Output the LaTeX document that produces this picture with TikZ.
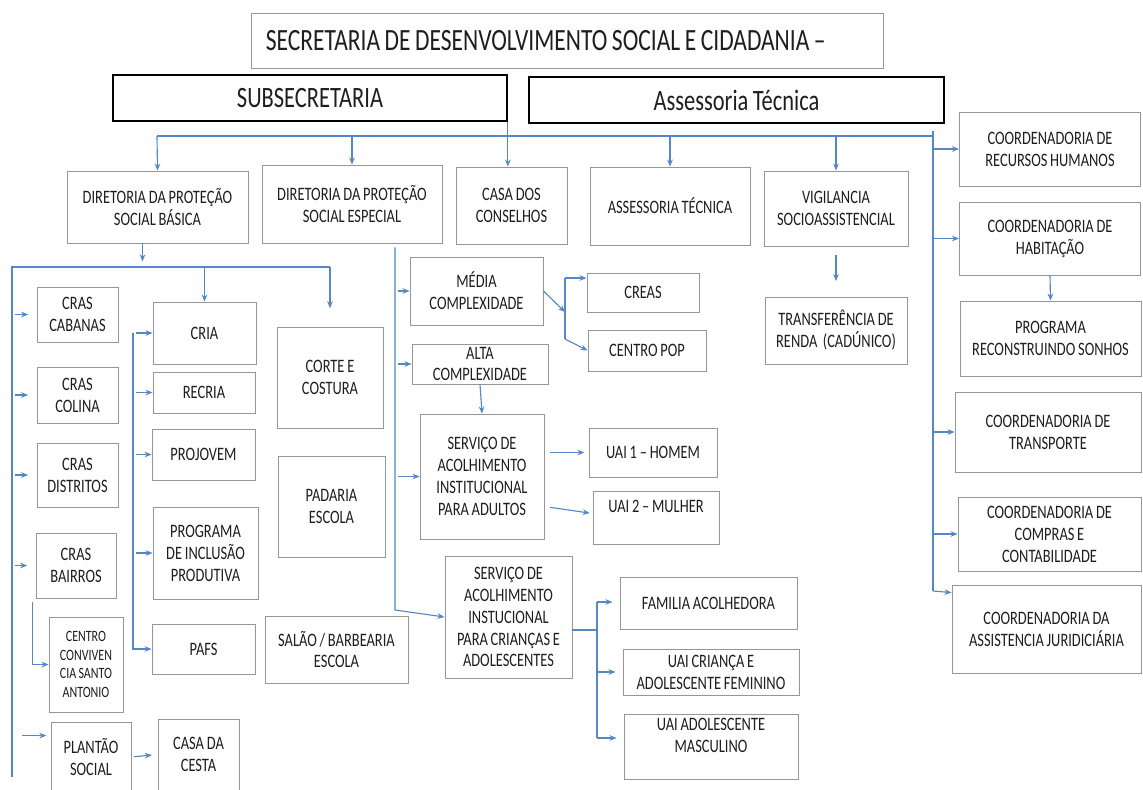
\documentclass[tikz,border=0pt]{standalone}
\usepackage{fontspec}
\setmainfont{Carlito}[FakeStretch=0.76, WordSpace=0.85]
\usetikzlibrary{calc,arrows.meta}
\definecolor{myblue}{RGB}{84,135,195}
\definecolor{mygray}{RGB}{150,150,150}
\definecolor{mytext}{RGB}{30,30,30}
\tikzset{
  box/.style={draw=mygray, line width=0.6pt, rectangle, align=center, inner sep=1pt,
    text=mytext, font=\fontsize{13.5}{15.6}\selectfont},
  headbox/.style={draw=black, line width=1.2pt, rectangle, align=center,
    text=mytext, font=\fontsize{21}{24}\selectfont},
  link/.style={myblue, line width=0.8pt},
  arr/.style={link, -{Stealth[length=5pt,width=4pt]}},
}

\begin{document}
\begin{tikzpicture}[x=0.025cm, y=-0.025cm]
  \clip (0,0) rectangle (1143,789);
  \fill[white] (0,0) rectangle (1143,789);

  % top level
  \node[box, font=\fontsize{22}{25}\selectfont, text width=150.5mm, align=flush left, inner xsep=3.75mm, minimum height=13.75mm] (sec) at (567,40.5) {SECRETARIA DE DESENVOLVIMENTO SOCIAL E CIDADANIA –};
  \node[headbox, minimum width=98.5mm, minimum height=11.5mm] (subsec) at (310,98) {SUBSECRETARIA};
  \node[headbox, minimum width=103.75mm, minimum height=11.5mm] (assess) at (736.5,100) {Assessoria Técnica};

  % second row
  \node[box, minimum width=45.25mm, minimum height=18mm] (dirbas) at (157.5,207) {DIRETORIA DA PROTEÇÃO\\SOCIAL BÁSICA};
  \node[box, minimum width=45mm, minimum height=19.5mm] (diresp) at (352,204) {DIRETORIA DA PROTEÇÃO\\SOCIAL ESPECIAL};
  \node[box, minimum width=27.75mm, minimum height=19.25mm] (casa) at (511.5,205.5) {CASA DOS\\CONSELHOS};
  \node[box, minimum width=40mm, minimum height=19.5mm] (asstec) at (670,206) {ASSESSORIA TÉCNICA};
  \node[box, minimum width=36mm, minimum height=18.75mm] (vigil) at (836,208.5) {VIGILANCIA\\SOCIOASSISTENCIAL};
  \node[box, minimum width=35.5mm, minimum height=16.75mm] (transf) at (836,330.5) {TRANSFERÊNCIA DE\\RENDA~~(CADÚNICO)};

  % coordenadorias
  \node[box, minimum width=45.25mm, minimum height=18.5mm] (coordrh) at (1050,149) {COORDENADORIA DE\\RECURSOS HUMANOS};
  \node[box, minimum width=45.25mm, minimum height=18.25mm] (coordhab) at (1050,238.5) {COORDENADORIA DE\\HABITAÇÃO};
  \node[box, minimum width=45.25mm, minimum height=18.75mm] (progsonhos) at (1050.5,338.5) {PROGRAMA\\RECONSTRUINDO SONHOS};
  \node[box, minimum width=46.5mm, minimum height=20mm] (coordtransp) at (1048,432) {COORDENADORIA DE\\TRANSPORTE};
  \node[box, minimum width=45.75mm, minimum height=18.5mm] (coordcompras) at (1049.5,534) {COORDENADORIA DE\\COMPRAS E\\CONTABILIDADE};
  \node[box, minimum width=47.25mm, minimum height=22mm] (coordjur) at (1046.5,629) {COORDENADORIA DA\\ASSISTENCIA JURIDICIÁRIA};

  % protecao social basica
  \node[box, minimum width=20.25mm, minimum height=13.75mm] (crascab) at (77.5,314.5) {CRAS\\CABANAS};
  \node[box, minimum width=20.25mm, minimum height=14mm] (crascol) at (77.5,395) {CRAS\\COLINA};
  \node[box, minimum width=20.25mm, minimum height=16mm] (crasdist) at (77.5,475) {CRAS\\DISTRITOS};
  \node[box, minimum width=20mm, minimum height=16.25mm] (crasbai) at (76,565.5) {CRAS\\BAIRROS};
  \node[box, font=\fontsize{11.2}{13.3}\selectfont, minimum width=18.5mm, minimum height=23.75mm] (centroconv) at (86,664.5) {CENTRO\\CONVIVEN\\CIA SANTO\\ANTONIO};
  \node[box, minimum width=20mm, minimum height=17.5mm] (plantao) at (91,757) {PLANTÃO\\SOCIAL};
  \node[box, minimum width=20.25mm, minimum height=17.75mm] (casacesta) at (198.5,754.5) {CASA DA\\CESTA};
  \node[box, minimum width=25.75mm, minimum height=15.5mm] (cria) at (204.5,333) {CRIA};
  \node[box, minimum width=25.5mm, minimum height=10.25mm] (recria) at (204,392.5) {RECRIA};
  \node[box, minimum width=25.75mm, minimum height=12.75mm] (projovem) at (203.5,454.5) {PROJOVEM};
  \node[box, minimum width=26.25mm, minimum height=23mm] (proginc) at (205.5,553) {PROGRAMA\\DE INCLUSÃO\\PRODUTIVA};
  \node[box, minimum width=25.75mm, minimum height=12.5mm] (pafs) at (203.5,649) {PAFS};
  \node[box, minimum width=26.5mm, minimum height=25.25mm] (corte) at (330,377.5) {CORTE E\\COSTURA};
  \node[box, minimum width=26.75mm, minimum height=25.25mm] (padaria) at (331.5,506.5) {PADARIA\\ESCOLA};
  \node[box, minimum width=35.75mm, minimum height=16.75mm] (salao) at (336.5,649.5) {SALÃO / BARBEARIA\\ESCOLA};

  % protecao social especial
  \node[box, minimum width=33.25mm, minimum height=17mm] (media) at (476.5,291) {MÉDIA\\COMPLEXIDADE};
  \node[box, inner ysep=0pt, minimum width=34mm, minimum height=10mm] (alta) at (480,364) {ALTA\\COMPLEXIDADE};
  \node[box, minimum width=31mm, minimum height=31.25mm] (servad) at (482,476.5) {SERVIÇO DE\\ACOLHIMENTO\\INSTITUCIONAL\\PARA ADULTOS};
  \node[box, minimum width=28mm, minimum height=9.75mm] (creas) at (643,292.5) {CREAS};
  \node[box, minimum width=29.5mm, minimum height=10.25mm] (centropop) at (647,350.5) {CENTRO POP};
  \node[box, minimum width=32mm, minimum height=12.25mm] (uaihomem) at (653,452.5) {UAI 1 – HOMEM};
  \node[box, minimum width=31.5mm, minimum height=13.25mm] (uaimulher) at (656,517.5) {UAI 2 – MULHER\\\mbox{}};
  \node[box, minimum width=31.75mm, minimum height=30.5mm] (servcri) at (508.5,617) {SERVIÇO DE\\ACOLHIMENTO\\INSTUCIONAL\\PARA CRIANÇAS E\\ADOLESCENTES};
  \node[box, minimum width=44.25mm, minimum height=13mm] (familia) at (708.5,603) {FAMILIA ACOLHEDORA};
  \node[box, minimum width=44mm, minimum height=11.5mm] (uaifem) at (711,672) {UAI CRIANÇA E\\ADOLESCENTE FEMININO};
  \node[box, minimum width=43.5mm, minimum height=16.25mm] (uaimasc) at (711,746.5) {UAI ADOLESCENTE\\MASCULINO\\\mbox{}};

  % main bus
  \coordinate (busL) at (157,136);
  \coordinate (busR) at (933,136);
  \coordinate (trunkR) at (933,591);
  \draw[link] (busL) -- (busR);
  \draw[arr] (busL) -- (dirbas.north);
  \draw[arr] (diresp.north |- busL) -- (diresp.north);
  \draw[arr] (subsec.south east) -- (subsec.south east |- casa.north);
  \draw[arr] (asstec.north |- busL) -- (asstec.north);
  \draw[arr] (vigil.north |- busL) -- (vigil.north);
  \draw[arr, shorten <=6pt, shorten >=11pt] (vigil.south) -- (transf.north);

  % coordenadorias
  \draw[link] ($(busR)+(0,-5)$) -- (trunkR);
  \foreach \b in {coordrh, coordhab, coordtransp, coordcompras}
    \draw[arr] (busR |- \b.west) -- (\b.west);
  \draw[arr] (trunkR) -- ($(coordjur.north west)+(0,8)$);
  \draw[arr] (coordhab.south) -- (progsonhos.north);

  % basica
  \coordinate (busB) at (12,267);
  \coordinate (trunkL) at (12,777);
  \coordinate (trunkM) at (133,333);
  \coordinate (pl) at ($(plantao.north west)+(0,14)$);
  \draw[arr] ($(dirbas.south)+(-15,0)$) -- ++(0,18);
  \draw[link] (trunkL) -- (busB) -- (corte.north |- busB);
  \draw[arr] (cria.north |- busB) -- (cria.north);
  \draw[arr, shorten >=13pt] (corte.north |- busB) -- (corte.north);
  \foreach \b in {crascab, crascol, crasdist, crasbai}
    \draw[arr, shorten <=2pt, shorten >=6pt] (trunkL |- \b.west) -- (\b.west);
  \draw[arr, shorten <=7pt, shorten >=3pt] (trunkL |- pl) -- (pl);
  \draw[arr] ($(crasbai.south west)+(-3,4)$) |- (centroconv.west);
  \draw[arr, shorten <=2pt, shorten >=4pt] (plantao.east) -- (casacesta.west);
  \draw[arr] (trunkM) -- (trunkM |- pafs.west) -- (pafs.west);
  \foreach \b in {cria, recria, projovem, proginc}
    \draw[arr, shorten <=2pt] (trunkM |- \b.west) -- (\b.west);

  % especial
  \coordinate (trunkE) at ($(diresp.south)+(43,4)$);
  \coordinate (trunkEb) at (395,610);
  \draw[arr] (trunkE) -- (trunkEb) -- (servcri.west);
  \foreach \b in {media, alta, servad}
    \draw[arr, shorten <=2pt] (trunkE |- \b.west) -- (\b.west);
  \draw[arr] (alta.south) -- (servad.north);
  \coordinate (mSplit) at (565,312);
  \coordinate (mTop) at (565,278);
  \coordinate (mBot) at (565,339);
  \draw[arr] (media.east) -- (mSplit);
  \draw[link] (mTop) -- (mBot);
  \draw[arr] (mTop) -- (mTop -| creas.west);
  \draw[arr] (mBot) -- (centropop.west);
  \draw[arr, shorten <=4pt, shorten >=3pt] (servad.east |- uaihomem.west) -- (uaihomem.west);
  \draw[arr, shorten <=4pt, shorten >=2pt] ($(servad.east)+(0,30)$) -- ($(uaimulher.west)+(0,-4)$);
  \coordinate (sSplit) at (597,630);
  \coordinate (sTop) at (597,602);
  \coordinate (sBot) at (597,738);
  \draw[link] ($(servcri.east)+(0,13)$) -- (sSplit);
  \draw[link] (sTop) -- (sBot);
  \draw[arr, shorten >=5pt] (sTop) -- (sTop -| familia.west);
  \draw[arr, shorten >=5pt] (sTop |- uaifem.west) -- (uaifem.west);
  \draw[arr, shorten >=5pt] (sBot) -- (sBot -| uaimasc.west);
\end{tikzpicture}
\end{document}
